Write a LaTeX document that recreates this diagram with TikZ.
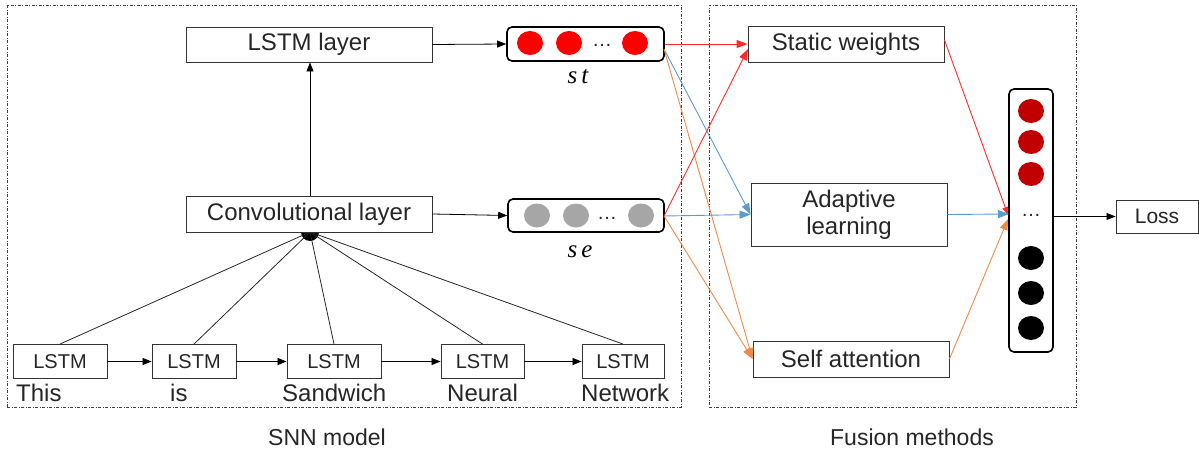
\documentclass[tikz,border=0pt]{standalone}
\usepackage{fontspec}
\setmainfont{Liberation Sans}
\newfontfamily\labserif{Liberation Serif}
\usetikzlibrary{arrows.meta,shapes.geometric}
\definecolor{myred}{HTML}{FF2A2A}
\definecolor{myblue}{HTML}{5B9BD5}
\definecolor{myorange}{HTML}{F08A4B}
\definecolor{dkred}{HTML}{C00000}
\definecolor{grc}{HTML}{A6A6A6}
\definecolor{txt}{HTML}{262626}
\begin{document}
\begin{tikzpicture}[x=1pt,y=-1pt,
  box/.style={draw=black!80, line width=0.9pt, fill=white, inner sep=0pt, text=txt, font=\fontsize{24}{27}\selectfont, align=center},
  sbox/.style={draw=black!80, line width=0.9pt, fill=white, inner sep=0pt, text=txt, font=\fontsize{20}{24}\selectfont, minimum height=34},
  vecbox/.style={draw=black, line width=1.6pt, rounded corners=5pt, fill=white, inner sep=0pt},
  ball/.style={ellipse, inner sep=0pt, minimum width=26, minimum height=24},
  word/.style={anchor=west, inner sep=0pt, text=txt, font=\fontsize{24}{27}\selectfont},
  title/.style={inner sep=0pt, text=txt, font=\fontsize{23}{27}\selectfont},
  veclabel/.style={inner sep=0pt, text=black, font=\labserif\itshape\fontsize{25}{28}\selectfont},
  frame/.style={draw=black!75, line width=0.7pt, dash pattern=on 3pt off 1.5pt on 1pt off 1.5pt, inner sep=0pt},
  arr/.style={-{Triangle[length=9pt,width=7pt]}, line width=0.8pt, draw=black},
  carr/.style={-{Triangle[length=11pt,width=8pt]}, line width=0.9pt},
  dotsn/.style={inner sep=0pt, font=\fontsize{20}{24}\selectfont, text=txt}
]
\useasboundingbox (0,0) rectangle (1199,452);

% frames
\node[frame, minimum width=674, minimum height=402] (f1) at (344,206) {};
\node[frame, minimum width=367, minimum height=402] (f2) at (892.5,206) {};
\node[title] (t1) at (327,437) {SNN model};
\node[title] (t2) at (912,437) {Fusion methods};

% bottom LSTM chain
\node[sbox, minimum width=94] (b1) at (60,361.5) {LSTM};
\node[sbox, minimum width=84] (b2) at (194,361.5) {LSTM};
\node[sbox, minimum width=94] (b3) at (334,361.5) {LSTM};
\node[sbox, minimum width=83] (b4) at (482.5,361.5) {LSTM};
\node[sbox, minimum width=82] (b5) at (623,361.5) {LSTM};
\draw[arr] (b1) -- (b2);
\draw[arr] (b2) -- (b3);
\draw[arr] (b3) -- (b4);
\draw[arr] (b4) -- (b5);

\node[word] (w1) at (16,393) {This};
\node[word] (w2) at (170,393) {is};
\node[word] (w3) at (282,393) {Sandwich};
\node[word] (w4) at (447,393) {Neural};
\node[word] (w5) at (581,393) {Network};

% hub
\node[circle, fill=black, inner sep=0pt, minimum size=18] (hub) at (310,232) {};
\foreach \b in {b1,b2,b3,b4,b5}
  \draw[line width=0.8pt, black!85] (\b.north) -- (hub.center);

% layers
\node[box, minimum width=246, minimum height=36] (conv) at (309,214) {Convolutional layer};
\node[box, minimum width=246, minimum height=35] (lstml) at (309,44.5) {LSTM layer};
\draw[arr] (conv.north -| hub) -- (lstml.south -| hub);

% st and se vectors
\node[vecbox, minimum width=157, minimum height=34] (st) at (585.5,44) {};
\node[ball, fill=red] (st1) at (530,43) {};
\node[ball, fill=red] (st2) at (569,43) {};
\node[ball, fill=red] (st3) at (635,43) {};
\node[dotsn] (std) at (602,45) {\dots};
\node[veclabel] (stl) at (578,77) {s\,t};

\node[vecbox, minimum width=156, minimum height=33] (se) at (586,215.5) {};
\node[ball, fill=grc] (se1) at (537,215.5) {};
\node[ball, fill=grc] (se2) at (576,215.5) {};
\node[ball, fill=grc] (se3) at (641,215.5) {};
\node[dotsn] (sed) at (607,218) {\dots};
\node[veclabel] (sel) at (580,252) {s\,e};

\draw[arr] (lstml.east) -- (st.west);
\draw[arr] (conv.east) -- (se.west);

% fusion methods
\node[box, minimum width=196, minimum height=36] (sw) at (846,44) {Static weights};
\node[box, minimum width=196, minimum height=63] (ad) at (849,214.5) {Adaptive\\learning};
\node[box, minimum width=196, minimum height=36] (sa) at (851,359) {Self attention};

\coordinate (swin) at (748,49);
\coordinate (stout) at (664,49);
\coordinate (seout) at (664,216);

\draw[carr, myblue] (stout) -- (ad.west);
\draw[carr, myorange] (stout) -- (sa.west);
\draw[carr, myorange] (seout) -- (sa.west);
\draw[carr, myblue] (seout) -- (ad.west);
\draw[carr, myred] (st.east) -- (st.east -| sw.west);
\draw[carr, myred] (seout) -- (swin);

% output vector
\node[vecbox, minimum width=44, minimum height=263] (v) at (1031,220.5) {};
\node[ball, fill=dkred] (v1) at (1031,111) {};
\node[ball, fill=dkred] (v2) at (1031,142) {};
\node[ball, fill=dkred] (v3) at (1031,174) {};
\node[dotsn] (vd) at (1031,215) {\dots};
\node[ball, fill=black] (v4) at (1031,258) {};
\node[ball, fill=black] (v5) at (1031,293) {};
\node[ball, fill=black] (v6) at (1031,328) {};

\coordinate (vr) at (1008,215);
\coordinate (vb) at (1009,214);
\coordinate (vo) at (1008,219);
\draw[carr, myred, -{Triangle[length=8pt,width=6pt]}] ([yshift=4pt]sw.east) -- (vr);
\draw[carr, myblue] (ad.east) -- (vb);
\draw[carr, myorange] (sa.east) -- (vo);

\node[box, font=\fontsize{21}{24}\selectfont, minimum width=82, minimum height=33] (loss) at (1157,216.5) {Loss};
\draw[arr] (v.east |- loss) -- (loss.west);
\end{tikzpicture}
\end{document}
